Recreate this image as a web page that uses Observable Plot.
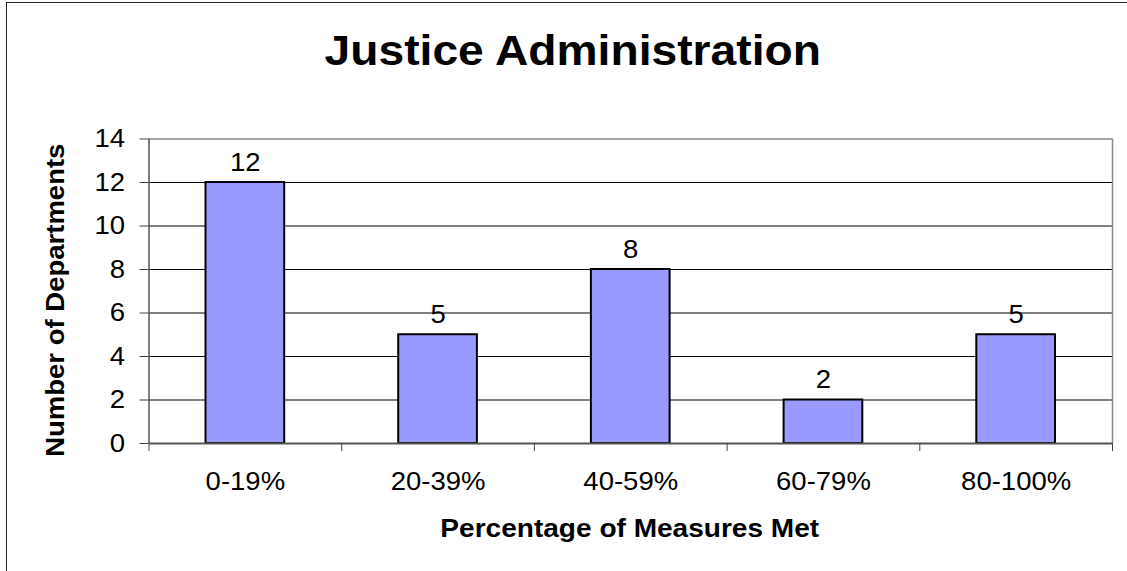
<!DOCTYPE html>
<html>
<head>
<meta charset="utf-8">
<script src="https://cdn.jsdelivr.net/npm/d3@7"></script>
<script src="https://cdn.jsdelivr.net/npm/@observablehq/plot@0.6"></script>
<style>
  html, body { margin: 0; padding: 0; background: white; }
  #wrap { position: relative; width: 1127px; height: 571px; overflow: hidden; }
  #border { position: absolute; left: 6px; top: 2px; width: 1200px; height: 700px;
            border-left: 1.5px solid #222; border-top: 1.5px solid #222; pointer-events: none; }
</style>
</head>
<body>
<div id="wrap"><div id="border"></div></div>
<script>
const title = "Justice Administration";
const xTitle = "Percentage of Measures Met";
const yTitle = "Number of Departments";
const categories = ["0-19%", "20-39%", "40-59%", "60-79%", "80-100%"];
const departments = [12, 5, 8, 2, 5];
const yTicks = [0, 2, 4, 6, 8, 10, 12, 14];

const data = categories.map((c, i) => ({category: c, index: i, value: departments[i]}));
const bounds = d3.range(categories.length + 1);
const font = "'Liberation Sans', Arial, Helvetica, sans-serif";

const chart = Plot.plot({
  width: 1127,
  height: 571,
  marginLeft: 148.5,
  marginRight: 15,
  marginTop: 138.5,
  marginBottom: 128,
  x: {domain: [0, categories.length], axis: null},
  y: {domain: [0, 14], axis: null},
  style: {fontFamily: font, background: "transparent", color: "black"},
  marks: [
    Plot.gridY(yTicks.slice(1, -1), {stroke: "black", strokeOpacity: 1, strokeWidth: 1}),
    Plot.ruleY([14], {stroke: "#8a8a8a", strokeWidth: 1.5}),
    Plot.ruleX([categories.length], {stroke: "#8a8a8a", strokeWidth: 1.5}),
    Plot.rectY(data, {
      x1: d => d.index, x2: d => d.index + 1, y: "value",
      insetLeft: 57, insetRight: 57,
      fill: "#9999ff", stroke: "black", strokeWidth: 2
    }),
    Plot.ruleX([0], {stroke: "#555", strokeWidth: 1.5}),
    Plot.ruleY([0], {stroke: "#555", strokeWidth: 2}),
    Plot.axisY({ticks: yTicks, tickSize: 9, tickPadding: 15, fontSize: 25, label: null,
      stroke: "#444", fill: "black", ariaLabel: "y-ticks"}),
    Plot.axisX({ticks: bounds, tickSize: 8, tickFormat: () => "", label: null,
      stroke: "#444", ariaLabel: "x-ticks"}),
    Plot.text(data, {
      x: d => d.index + 0.5, frameAnchor: "bottom", lineAnchor: "middle", text: "category",
      dy: 38.3, fontSize: 25, fill: "black", ariaLabel: "x-labels"
    }),
    Plot.text(data, {
      x: d => d.index + 0.5, y: "value", text: d => String(d.value), lineAnchor: "middle",
      dy: -20, fontSize: 25, fill: "black", ariaLabel: "values"
    }),
    Plot.text([title], {
      frameAnchor: "top", lineAnchor: "middle", textAnchor: "middle", dx: -58, dy: -87,
      fontSize: 42, fontWeight: "bold", fill: "black", ariaLabel: "title"
    }),
    Plot.text([xTitle], {
      frameAnchor: "bottom", lineAnchor: "middle", textAnchor: "middle", dx: -1, dy: 85.5,
      fontSize: 25.5, fontWeight: "bold", fill: "black", ariaLabel: "x-title"
    }),
    Plot.text([yTitle], {
      frameAnchor: "left", lineAnchor: "middle", textAnchor: "middle", rotate: -90,
      dx: -93.5, dy: 9, fontSize: 25, fontWeight: "bold", fill: "black", ariaLabel: "y-title"
    })
  ]
});

const wrap = document.getElementById("wrap");
wrap.insertBefore(chart, wrap.firstChild);

const stretch = {"title": 1.09, "x-title": 1.215, "y-title": 1.09};
d3.select(chart).selectAll("text").each(function() {
  const g = this.closest("g[aria-label]");
  const label = g ? g.getAttribute("aria-label") : "";
  const sx = stretch[label] || 1.1;
  const len = this.getComputedTextLength();
  if (len > 0) {
    this.setAttribute("textLength", (len * sx).toFixed(2));
    this.setAttribute("lengthAdjust", "spacingAndGlyphs");
  }
});
</script>
</body>
</html>
